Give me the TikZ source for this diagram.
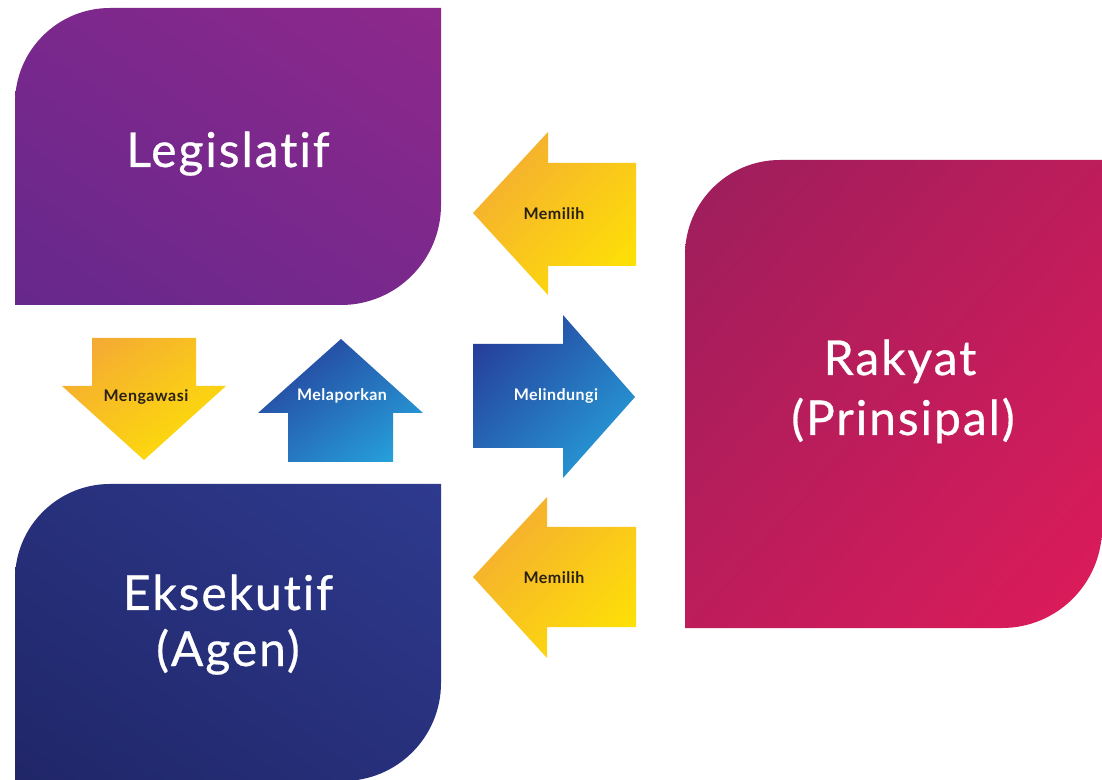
\documentclass[tikz,border=0pt]{standalone}
\usepackage{fontspec}
\usetikzlibrary{shadings}
\setmainfont{Lato}
\newfontfamily\headfont[LetterSpace=4, FakeBold=0.6, Ligatures=CommonOff]{Lato}
\newfontfamily\labelfont[LetterSpace=3, Ligatures=CommonOff]{Lato}
\definecolor{legA}{RGB}{102,40,140}
\definecolor{legB}{RGB}{142,40,140}
\definecolor{eksA}{RGB}{32,38,104}
\definecolor{eksB}{RGB}{46,58,142}
\definecolor{rakA}{RGB}{156,30,92}
\definecolor{rakB}{RGB}{222,27,90}
\definecolor{ylwA}{RGB}{243,163,58}
\definecolor{ylwB}{RGB}{255,232,0}
\definecolor{bluA}{RGB}{38,50,146}
\definecolor{bluB}{RGB}{38,172,226}
\definecolor{labdark}{RGB}{40,32,20}
\tikzset{
  diagUL/.style 2 args={upper left=#1, lower right=#2,
    upper right=#1!50!#2, lower left=#1!50!#2},
  diagLL/.style 2 args={lower left=#1, upper right=#2,
    upper left=#1!50!#2, lower right=#1!50!#2},
  bigtext/.style={text=white, font=\headfont\fontsize{48}{56}\selectfont,
    anchor=base, inner sep=0pt},
  darklabel/.style={text=labdark, font=\labelfont\bfseries\fontsize{16}{18}\selectfont,
    inner sep=0pt},
  lightlabel/.style={text=white, font=\labelfont\bfseries\fontsize{16}{18}\selectfont,
    inner sep=0pt},
}
\begin{document}
\begin{tikzpicture}[x=1pt,y=1pt]
\useasboundingbox (0,0) rectangle (1102,779);
\fill[white] (0,0) rectangle (1102,779);

% Legislatif panel
\shade[diagLL={legA}{legB}]
  (15,474) -- (15,676) arc[start angle=180, end angle=90, radius=95]
  -- (441,771) -- (441,574) arc[start angle=0, end angle=-90, radius=100]
  -- cycle;
\node[bigtext] (legtxt) at (228,612) {Legislatif};

% Eksekutif panel
\shade[diagLL={eksA}{eksB}]
  (15,-2) -- (15,200) arc[start angle=180, end angle=90, radius=95]
  -- (441,295) -- (441,96) arc[start angle=0, end angle=-90, radius=98]
  -- cycle;
\node[bigtext] (ekstxt) at (228,169) {Eksekutif};
\node[bigtext] (agentxt) at (228,113) {(Agen)};

% Rakyat panel
\shade[diagUL={rakA}{rakB}]
  (685,151) -- (685,524) arc[start angle=180, end angle=90, radius=95]
  -- (1102,619) -- (1102,251) arc[start angle=0, end angle=-90, radius=100]
  -- cycle;
\node[bigtext] (raktxt) at (900,404) {Rakyat};
\node[bigtext] (printxt) at (903,344) {(Prinsipal)};

% Memilih (upper)
\shade[diagUL={ylwA}{ylwB}]
  (473,566) -- (548,647) -- (548,616) -- (636,616) -- (636,513)
  -- (548,513) -- (548,484) -- cycle;
\node[darklabel] (memilih1) at (554,565) {Memilih};

% Melindungi
\shade[diagUL={bluA}{bluB}]
  (635,382) -- (563,464) -- (563,435) -- (473,435) -- (473,331)
  -- (563,331) -- (563,301) -- cycle;
\node[lightlabel] (melindungi) at (556,383) {Melindungi};

% Memilih (lower)
\shade[diagUL={ylwA}{ylwB}]
  (473,202) -- (547,282) -- (547,252) -- (636,252) -- (636,152)
  -- (547,152) -- (547,121) -- cycle;
\node[darklabel] (memilih2) at (554,201) {Memilih};

% Mengawasi
\shade[diagUL={ylwA}{ylwB}]
  (92,441) -- (196,441) -- (196,393) -- (226,393) -- (144,319)
  -- (62,393) -- (92,393) -- cycle;
\node[darklabel] (mengawasi) at (146,382) {Mengawasi};

% Melaporkan
\shade[diagUL={bluA}{bluB}]
  (341,440) -- (423,366) -- (393,366) -- (393,317) -- (288,317)
  -- (288,366) -- (258,366) -- cycle;
\node[lightlabel] (melaporkan) at (342,383) {Melaporkan};
\end{tikzpicture}
\end{document}
